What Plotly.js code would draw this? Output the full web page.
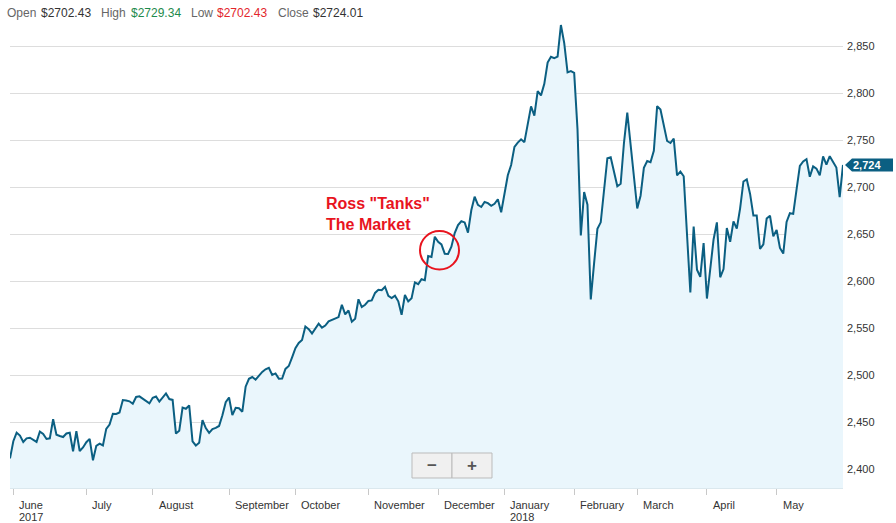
<!DOCTYPE html>
<html>
<head>
<meta charset="utf-8">
<script src="https://cdn.plot.ly/plotly-3.0.1.min.js"></script>
<style>
html,body{margin:0;padding:0;background:#fff;}
#chart{width:896px;height:523px;}
</style>
</head>
<body>
<div id="chart"></div>
<script>
// ---- Data (S&P 500 daily closes, trading days) ----
const dates = [
"2017-05-31",
"2017-06-01","2017-06-02","2017-06-05","2017-06-06","2017-06-07","2017-06-08","2017-06-09","2017-06-12","2017-06-13","2017-06-14","2017-06-15","2017-06-16","2017-06-19","2017-06-20","2017-06-21","2017-06-22","2017-06-23","2017-06-26","2017-06-27","2017-06-28","2017-06-29","2017-06-30",
"2017-07-03","2017-07-05","2017-07-06","2017-07-07","2017-07-10","2017-07-11","2017-07-12","2017-07-13","2017-07-14","2017-07-17","2017-07-18","2017-07-19","2017-07-20","2017-07-21","2017-07-24","2017-07-25","2017-07-26","2017-07-27","2017-07-28","2017-07-31",
"2017-08-01","2017-08-02","2017-08-03","2017-08-04","2017-08-07","2017-08-08","2017-08-09","2017-08-10","2017-08-11","2017-08-14","2017-08-15","2017-08-16","2017-08-17","2017-08-18","2017-08-21","2017-08-22","2017-08-23","2017-08-24","2017-08-25","2017-08-28","2017-08-29","2017-08-30","2017-08-31",
"2017-09-01","2017-09-05","2017-09-06","2017-09-07","2017-09-08","2017-09-11","2017-09-12","2017-09-13","2017-09-14","2017-09-15","2017-09-18","2017-09-19","2017-09-20","2017-09-21","2017-09-22","2017-09-25","2017-09-26","2017-09-27","2017-09-28","2017-09-29",
"2017-10-02","2017-10-03","2017-10-04","2017-10-05","2017-10-06","2017-10-09","2017-10-10","2017-10-11","2017-10-12","2017-10-13","2017-10-16","2017-10-17","2017-10-18","2017-10-19","2017-10-20","2017-10-23","2017-10-24","2017-10-25","2017-10-26","2017-10-27","2017-10-30","2017-10-31",
"2017-11-01","2017-11-02","2017-11-03","2017-11-06","2017-11-07","2017-11-08","2017-11-09","2017-11-10","2017-11-13","2017-11-14","2017-11-15","2017-11-16","2017-11-17","2017-11-20","2017-11-21","2017-11-22","2017-11-24","2017-11-27","2017-11-28","2017-11-29","2017-11-30",
"2017-12-01","2017-12-04","2017-12-05","2017-12-06","2017-12-07","2017-12-08","2017-12-11","2017-12-12","2017-12-13","2017-12-14","2017-12-15","2017-12-18","2017-12-19","2017-12-20","2017-12-21","2017-12-22","2017-12-26","2017-12-27","2017-12-28","2017-12-29",
"2018-01-02","2018-01-03","2018-01-04","2018-01-05","2018-01-08","2018-01-09","2018-01-10","2018-01-11","2018-01-12","2018-01-16","2018-01-17","2018-01-18","2018-01-19","2018-01-22","2018-01-23","2018-01-24","2018-01-25","2018-01-26","2018-01-29","2018-01-30","2018-01-31",
"2018-02-01","2018-02-02","2018-02-05","2018-02-06","2018-02-07","2018-02-08","2018-02-09","2018-02-12","2018-02-13","2018-02-14","2018-02-15","2018-02-16","2018-02-20","2018-02-21","2018-02-22","2018-02-23","2018-02-26","2018-02-27","2018-02-28",
"2018-03-01","2018-03-02","2018-03-05","2018-03-06","2018-03-07","2018-03-08","2018-03-09","2018-03-12","2018-03-13","2018-03-14","2018-03-15","2018-03-16","2018-03-19","2018-03-20","2018-03-21","2018-03-22","2018-03-23","2018-03-26","2018-03-27","2018-03-28","2018-03-29",
"2018-04-02","2018-04-03","2018-04-04","2018-04-05","2018-04-06","2018-04-09","2018-04-10","2018-04-11","2018-04-12","2018-04-13","2018-04-16","2018-04-17","2018-04-18","2018-04-19","2018-04-20","2018-04-23","2018-04-24","2018-04-25","2018-04-26","2018-04-27","2018-04-30",
"2018-05-01","2018-05-02","2018-05-03","2018-05-04","2018-05-07","2018-05-08","2018-05-09","2018-05-10","2018-05-11","2018-05-14","2018-05-15","2018-05-16","2018-05-17","2018-05-18","2018-05-21","2018-05-22","2018-05-23","2018-05-24","2018-05-25","2018-05-29","2018-05-30"
];

const closes = [
2411.80,
2430.06,2439.07,2436.10,2429.33,2433.14,2433.79,2431.77,2429.39,2440.35,2437.92,2432.46,2433.15,2453.46,2437.03,2435.61,2434.50,2438.30,2439.07,2419.38,2440.69,2419.70,2423.41,
2429.01,2432.54,2409.75,2425.18,2427.43,2425.53,2443.25,2447.83,2459.27,2459.14,2460.61,2473.83,2473.45,2472.54,2469.91,2477.13,2477.83,2475.42,2472.10,2470.30,
2476.35,2477.57,2472.16,2476.83,2480.91,2474.92,2474.02,2438.21,2441.32,2465.84,2464.61,2468.11,2430.01,2425.55,2428.37,2452.51,2444.04,2438.97,2443.05,2444.24,2446.30,2457.59,2471.65,
2476.55,2457.85,2465.54,2465.10,2461.43,2488.11,2496.48,2498.37,2495.62,2500.23,2503.87,2506.65,2508.24,2500.60,2502.22,2496.66,2496.84,2507.04,2510.06,2519.36,
2529.12,2534.58,2537.74,2552.07,2549.33,2544.73,2550.64,2555.24,2550.93,2553.17,2557.64,2559.36,2561.26,2562.10,2575.21,2564.98,2569.13,2557.15,2560.40,2581.07,2572.83,2575.26,
2579.36,2579.85,2587.84,2591.13,2590.64,2594.38,2584.62,2582.30,2584.84,2578.87,2564.62,2585.64,2578.85,2582.14,2599.03,2597.08,2602.42,2601.42,2627.04,2626.07,2647.58,
2642.22,2639.44,2629.57,2629.27,2636.98,2651.50,2659.99,2664.11,2662.85,2652.01,2675.81,2690.16,2681.47,2679.25,2684.57,2683.34,2680.50,2682.62,2687.54,2673.61,
2695.81,2713.06,2723.99,2743.15,2747.71,2751.29,2748.23,2767.56,2786.24,2776.42,2802.56,2798.03,2810.30,2832.97,2839.13,2837.54,2839.25,2872.87,2853.53,2822.43,2823.81,
2821.98,2762.13,2648.94,2695.14,2681.66,2581.00,2619.55,2656.00,2662.94,2698.63,2731.20,2732.22,2716.26,2701.33,2703.96,2747.30,2779.60,2744.28,2713.83,
2677.67,2691.25,2720.94,2728.12,2726.80,2738.97,2786.57,2783.02,2765.31,2749.48,2747.33,2752.01,2712.92,2716.94,2711.93,2643.69,2588.26,2658.55,2612.62,2605.00,2640.87,
2581.88,2614.45,2644.69,2662.84,2604.47,2613.16,2656.87,2642.19,2663.99,2656.30,2677.84,2706.39,2708.64,2693.13,2670.14,2670.29,2634.56,2639.40,2666.94,2669.91,2648.05,
2654.80,2635.67,2629.73,2663.42,2672.63,2671.92,2697.79,2723.07,2727.72,2730.13,2711.45,2722.46,2720.13,2712.97,2733.01,2724.44,2733.29,2727.76,2721.33,2689.86,2724.01
];

const yTicks = [2400, 2450, 2500, 2550, 2600, 2650, 2700, 2750, 2800, 2850];
const monthNames = ["January","February","March","April","May","June","July","August","September","October","November","December"];
const headerLabels = ["Open", "High", "Low", "Close"];
const headerValues = [2702.43, 2729.34, 2702.43, 2724.01];
const noteText = 'Ross "Tanks"<br>The Market';

// ---- Layout geometry ----
const W = 896, Hh = 523;
const M = {l: 10, r: 53, t: 20, b: 35};
const PW = W - M.l - M.r, PH = Hh - M.t - M.b;
const PB = Hh - M.b; // plot bottom px
const yRange = [2380.3, 2878.2];
const px2x = px => (px - M.l) / PW;
const py2y = py => (PB - py) / PH;
const FONT = "Arial, 'Liberation Sans', sans-serif";

// month starts
const monthStarts = [];
for (let i = 1; i < dates.length; i++) {
  if (dates[i].slice(0, 7) !== dates[i - 1].slice(0, 7)) monthStarts.push(i);
}

const annotations = [];
const shapes = [];

// Month labels (left-aligned beside each tick)
monthStarts.forEach(i => {
  const d = dates[i];
  const m = parseInt(d.slice(5, 7), 10) - 1;
  annotations.push({
    x: i, xref: 'x', y: py2y(505), yref: 'paper', text: monthNames[m],
    xanchor: 'left', yanchor: 'middle', xshift: 5, showarrow: false, borderpad: 0,
    font: {family: FONT, size: 11, color: '#333'}
  });
  if (i === monthStarts[0] || m === 0) {
    annotations.push({
      x: i, xref: 'x', y: py2y(517), yref: 'paper', text: d.slice(0, 4),
      xanchor: 'left', yanchor: 'middle', xshift: 5, showarrow: false, borderpad: 0,
      font: {family: FONT, size: 11, color: '#333'}
    });
  }
});

// Header OHLC
const headerPos = [[5.5, 39.5], [100, 129.5], [189.5, 216], [276.5, 311.5]];
const valueColors = ['#333333', '#1e8a4c', '#e3262b', '#333333'];
headerLabels.forEach((lab, k) => {
  annotations.push({
    x: px2x(headerPos[k][0]), xref: 'paper', y: py2y(12.5), yref: 'paper', text: lab,
    xanchor: 'left', yanchor: 'middle', showarrow: false, borderpad: 0,
    font: {family: FONT, size: 12, color: '#666'}
  });
  annotations.push({
    x: px2x(headerPos[k][1]), xref: 'paper', y: py2y(12.5), yref: 'paper',
    text: '$' + headerValues[k].toFixed(2),
    xanchor: 'left', yanchor: 'middle', showarrow: false, borderpad: 0,
    font: {family: FONT, size: 12, color: valueColors[k]}
  });
});

// Red note
annotations.push({
  x: px2x(325), xref: 'paper', y: py2y(214.5), yref: 'paper', text: noteText,
  xanchor: 'left', yanchor: 'middle', align: 'left', showarrow: false, borderpad: 0,
  font: {family: FONT, size: 16, color: '#e8141e', weight: 'bold'}
});
shapes.push({
  type: 'circle', xref: 'paper', yref: 'paper',
  x0: px2x(420), x1: px2x(459), y0: py2y(269.5), y1: py2y(231),
  line: {color: '#e8141e', width: 2}, layer: 'above'
});

// Last value tag
const last = closes[closes.length - 1];
const yc = (last - yRange[0]) / (yRange[1] - yRange[0]);
const hh = 6.5 / PH;
shapes.push({
  type: 'path', xref: 'paper', yref: 'paper', layer: 'above',
  path: `M ${px2x(845)},${yc} L ${px2x(852)},${yc + hh} L ${px2x(893)},${yc + hh} L ${px2x(893)},${yc - hh} L ${px2x(852)},${yc - hh} Z`,
  fillcolor: '#0b5f82', line: {width: 0}
});
annotations.push({
  x: px2x(852), xref: 'paper', y: last, yref: 'y', text: last.toLocaleString('en-US', {maximumFractionDigits: 0}),
  xanchor: 'left', yanchor: 'middle', showarrow: false, borderpad: 0,
  font: {family: FONT, size: 11, color: '#ffffff', weight: 'bold'}
});

// Zoom buttons
[[412, 452, '\u2212'], [452, 492, '+']].forEach(b => {
  shapes.push({
    type: 'rect', xref: 'paper', yref: 'paper', layer: 'above',
    x0: px2x(b[0]), x1: px2x(b[1]), y0: py2y(478), y1: py2y(453),
    fillcolor: '#f0f0f0', line: {color: '#bbbbbb', width: 1}
  });
  annotations.push({
    x: px2x((b[0] + b[1]) / 2), xref: 'paper', y: py2y(465.5), yref: 'paper', text: b[2],
    xanchor: 'center', yanchor: 'middle', showarrow: false, borderpad: 0,
    font: {family: FONT, size: 17, color: '#555', weight: 'bold'}
  });
});

const trace = {
  type: 'scatter', mode: 'lines', x: dates, y: closes,
  line: {color: '#0b5f82', width: 2},
  fill: 'tozeroy', fillcolor: '#eaf6fc',
  hoverinfo: 'skip'
};

const layout = {
  width: W, height: Hh,
  margin: M,
  paper_bgcolor: '#ffffff', plot_bgcolor: '#ffffff',
  showlegend: false,
  font: {family: FONT, size: 11, color: '#333'},
  xaxis: {
    type: 'category', range: [0, dates.length - 1],
    showgrid: false, zeroline: false,
    showline: true, linecolor: '#dbe8ee', linewidth: 1,
    ticks: 'outside', ticklen: 6, tickcolor: '#c8c8c8', tickwidth: 1,
    tickvals: monthStarts.map(i => dates[i]),
    showticklabels: false
  },
  yaxis: {
    side: 'right', range: yRange,
    tickvals: yTicks, tickformat: ',d',
    showgrid: true, gridcolor: '#dddddd', gridwidth: 1,
    zeroline: false, showline: false, ticks: '',
    ticklabelstandoff: 3,
    tickfont: {family: FONT, size: 11, color: '#333'}
  },
  annotations: annotations,
  shapes: shapes
};

Plotly.newPlot('chart', [trace], layout, {staticPlot: true, displayModeBar: false});
</script>
</body>
</html>
